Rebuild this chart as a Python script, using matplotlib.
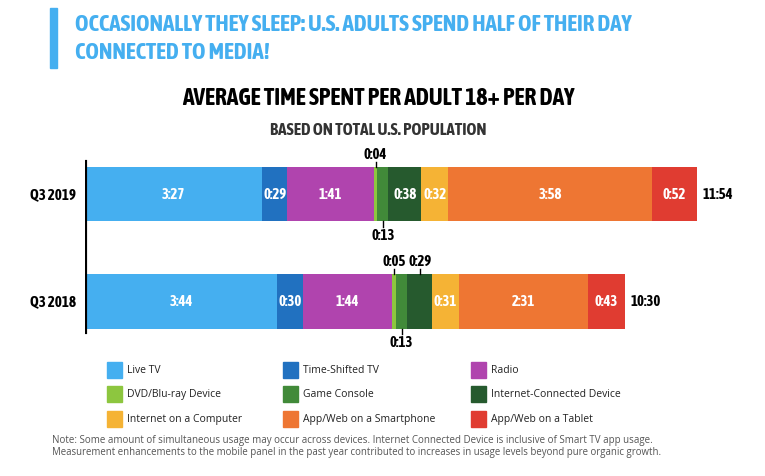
import matplotlib
matplotlib.use('Agg')
import matplotlib.pyplot as plt
from matplotlib import font_manager as fm
from matplotlib.patches import Rectangle

# data (minutes per day)
periods = ['Q3 2018', 'Q3 2019']
media = ['Live TV', 'Time-Shifted TV', 'Radio', 'DVD/Blu-ray Device', 'Game Console',
         'Internet-Connected Device', 'Internet on a Computer', 'App/Web on a Smartphone',
         'App/Web on a Tablet']
q3_2018 = [224, 30, 104, 5, 13, 29, 31, 151, 43]
q3_2019 = [207, 29, 101, 4, 13, 38, 32, 238, 52]
# where each value label goes: inside, above or below the bar
place_2018 = ['in', 'in', 'in', 'above', 'below', 'above', 'in', 'in', 'in']
place_2019 = ['in', 'in', 'in', 'above', 'below', 'in', 'in', 'in', 'in']
colors = ['#45aff0', '#2171c0', '#b044ae', '#8dc63f', '#418a39', '#265a2e',
          '#f5b335', '#ee7633', '#e03c31']

# pick a narrow font that has a bold face, if there is one
def wnum(w):
    return w if isinstance(w, int) else fm.weight_dict.get(w, 400)

best = {}
for f in fm.fontManager.ttflist:
    if 'Narrow' in f.name or 'Condensed' in f.name or f.stretch == 'condensed':
        best[f.name] = max(best.get(f.name, 0), wnum(f.weight))
names = {f.name for f in fm.fontManager.ttflist}
cond = max(best, key=best.get) if best else ('Roboto' if 'Roboto' in names else 'DejaVu Sans')
body = 'Open Sans' if 'Open Sans' in names else 'DejaVu Sans'

def hm(m):
    return '%d:%02d' % (m // 60, m % 60)

W, H = 765, 477
fig = plt.figure(figsize=(W / 100, H / 100), dpi=100)
r = fig.canvas.get_renderer()

def px(x, y):
    return x / W, 1 - y / H

def fit(t, width):
    w = t.get_window_extent(r).width
    t.set_fontsize(t.get_fontsize() * width / w)
    return t.get_fontsize()

# size for the bar labels: "0:52" is about 23 px wide
probe = fig.text(0, 0, '0:52', fontsize=10, fontweight='bold', family=cond, fontstretch='condensed')
lab_size = fit(probe, 23)
probe.remove()
probe = fig.text(0, 0, 'Q3 2019', fontsize=10, fontweight='bold', family=cond, fontstretch='condensed')
cat_size = fit(probe, 45)
probe.remove()

# chart axes in pixel positions
left, right, top, bot = 85, 765, 150, 350
ax = fig.add_axes([left / W, 1 - bot / H, (right - left) / W, (bot - top) / H])
ax.set_xlim(0, (right - left) / 0.857)
ax.set_ylim(-0.444, 1.425)
ax.axis('off')

lab = dict(fontsize=lab_size, fontweight='bold', family=cond, fontstretch='condensed')
bar_h = 0.505
rows = [(0, q3_2018, place_2018), (1, q3_2019, place_2019)]
for y, vals, places in rows:
    start = 0
    for v, c, p in zip(vals, colors, places):
        ax.barh(y, v, left=start, height=bar_h, color=c, edgecolor='none')
        mid = start + v / 2
        if p == 'in':
            ax.text(mid, y, hm(v), ha='center', va='center', color='white', **lab)
        elif p == 'above':
            ax.plot([mid, mid], [y + bar_h / 2, y + bar_h / 2 + 0.05], color='black', lw=1)
            ax.text(mid, y + bar_h / 2 + 0.06, hm(v), ha='center', va='bottom', color='black', **lab)
        else:
            ax.plot([mid, mid], [y - bar_h / 2, y - bar_h / 2 - 0.05], color='black', lw=1)
            ax.text(mid, y - bar_h / 2 - 0.06, hm(v), ha='center', va='top', color='black', **lab)
        start += v
    ax.text(start + 7, y, hm(sum(vals)), ha='left', va='center', color='black', **lab)
    ax.text(-10, y, periods[y], ha='right', va='center', color='black',
            fontsize=cat_size, fontweight='bold', family=cond, fontstretch='condensed')

ax.axvline(0, ymin=0.085, ymax=0.935, color='black', lw=3)

# header
fig.add_artist(Rectangle(px(50, 69), 7 / W, 60 / H, color='#45aff0', transform=fig.transFigure))
h1 = fig.text(*px(75, 25), 'OCCASIONALLY THEY SLEEP: U.S. ADULTS SPEND HALF OF THEIR DAY',
              ha='left', va='center', color='#45aff0', fontsize=12, fontweight='bold',
              family=cond, fontstretch='condensed')
hs = fit(h1, 558)
fig.text(*px(75, 53), 'CONNECTED TO MEDIA!',
         ha='left', va='center', color='#45aff0', fontsize=hs, fontweight='bold',
         family=cond, fontstretch='condensed')
t1 = fig.text(*px(378, 99), 'AVERAGE TIME SPENT PER ADULT 18+ PER DAY', ha='center', va='center',
              color='black', fontsize=14, fontweight='bold', family=cond, fontstretch='condensed')
fit(t1, 395)
t2 = fig.text(*px(378, 130), 'BASED ON TOTAL U.S. POPULATION', ha='center', va='center',
              color='#333333', fontsize=10, fontweight='bold', family=cond, fontstretch='condensed')
fit(t2, 215)

# legend
col_x = [107, 283, 471]
row_y = [371, 395, 420]
for i, (name, c) in enumerate(zip(media, colors)):
    x = col_x[i % 3]
    y = row_y[i // 3]
    fig.add_artist(Rectangle(px(x, y + 8), 15 / W, 16 / H, color=c, transform=fig.transFigure))
    fig.text(*px(x + 20, y), name, ha='left', va='center', fontsize=7.5, color='#222222',
             family=body)

n1 = fig.text(*px(52, 441), 'Note: Some amount of simultaneous usage may occur across devices. '
              'Internet Connected Device is inclusive of Smart TV app usage.',
              ha='left', va='center', fontsize=7, color='#555555', family=body)
fit(n1, 600)
n2 = fig.text(*px(52, 453), 'Measurement enhancements to the mobile panel in the past year contributed '
              'to increases in usage levels beyond pure organic growth.',
              ha='left', va='center', fontsize=7, color='#555555', family=body)
fit(n2, 613)

fig.savefig('out.png', dpi=100)
